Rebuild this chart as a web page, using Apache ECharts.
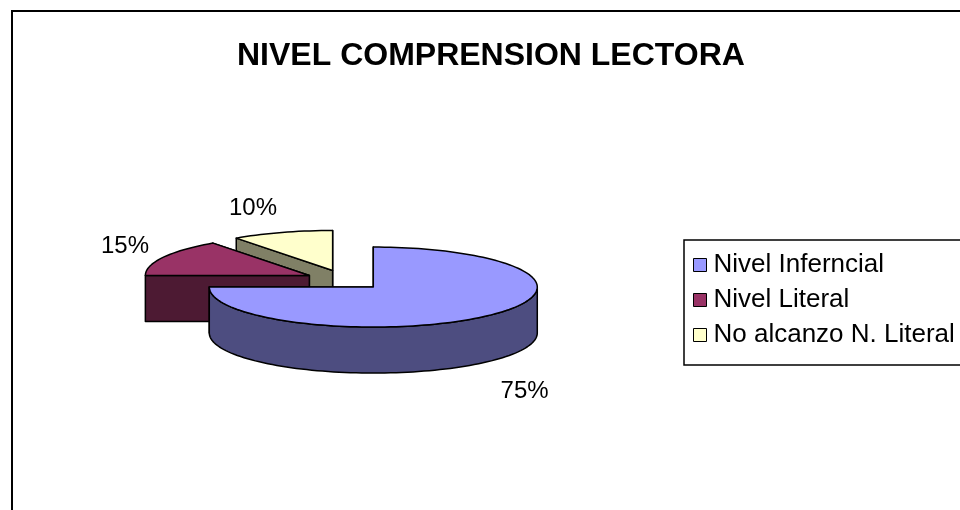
<!DOCTYPE html>
<html><head><meta charset="utf-8">
<script src="https://cdn.jsdelivr.net/npm/echarts@6/dist/echarts.min.js"></script>
<style>html,body{margin:0;padding:0;background:#fff}#c{width:960px;height:510px}</style>
</head><body><div id="c"></div>
<script>
const chartTitle = 'NIVEL COMPRENSION LECTORA';
const categories = ['Nivel Inferncial', 'Nivel Literal', 'No alcanzo N. Literal'];
const values = [75, 15, 10];
const percentLabels = ['75%', '15%', '10%'];
const topColors = ['#9999FF', '#993366', '#FFFFCC'];
const sideColors = ['#4D4D80', '#4D1A33', '#808066'];

const PIE = {cx: 345, cy: 280, rx: 164, ry: 40, depth: 46, explodeX: 40, explodeY: 10, labelX: 180, labelY: 65};
const FONT = '"Liberation Sans", Arial, sans-serif';

const total = values.reduce((a, b) => a + b, 0);
const starts = [];
let acc = 0;
values.forEach(v => { starts.push(acc / total * 360); acc += v; });
const rad = d => d * Math.PI / 180;
function pt(cx, cy, ang, dy) {
  return [cx + PIE.rx * Math.sin(rad(ang)), cy - PIE.ry * Math.cos(rad(ang)) + (dy || 0)];
}
function arc(cx, cy, a0, a1, dy) {
  const n = Math.max(2, Math.ceil(Math.abs(a1 - a0) / 2));
  const out = [];
  for (let k = 0; k <= n; k++) out.push(pt(cx, cy, a0 + (a1 - a0) * k / n, dy));
  return out;
}

function renderItem(params, api) {
  const i = params.dataIndex;
  const a0 = starts[i];
  const a1 = a0 + api.value(0) / total * 360;
  const mid = (a0 + a1) / 2;
  const s = Math.sin(rad(mid)), c = Math.cos(rad(mid));
  const cx = PIE.cx + PIE.explodeX * s;
  const cy = PIE.cy - PIE.explodeY * c;
  const d = PIE.depth;
  const base = Math.round((1 - c) * 100);
  const line = {stroke: '#000', lineWidth: 1.5, lineJoin: 'round'};
  const children = [];
  const back = [], front = [];
  [{ang: a0, n: a0 - 90}, {ang: a1, n: a1 + 90}].forEach(f => {
    const p = pt(cx, cy, f.ang);
    const poly = {type: 'polygon', shape: {points: [[cx, cy], p, [p[0], p[1] + d], [cx, cy + d]]},
      style: Object.assign({fill: sideColors[i]}, line)};
    (Math.cos(rad(f.n)) < -1e-6 ? front : back).push(poly);
  });
  children.push(...back);
  const w0 = Math.max(a0, 90), w1 = Math.min(a1, 270);
  if (w1 > w0) {
    const top = arc(cx, cy, w0, w1, 0), bot = arc(cx, cy, w1, w0, d);
    children.push({type: 'polygon', shape: {points: top.concat(bot)}, style: Object.assign({fill: sideColors[i]}, line)});
  }
  children.push(...front);
  children.push({type: 'polygon', shape: {points: [[cx, cy]].concat(arc(cx, cy, a0, a1, 0))},
    style: Object.assign({fill: topColors[i]}, line)});
  children.forEach((ch, k) => { ch.z2 = base * 10 + k; });
  const lx = cx + PIE.labelX * s;
  const ly = cy - PIE.labelY * c + (c < 0 ? d : 0);
  children.push({type: 'text', z2: 5000, style: {text: percentLabels[i], x: lx, y: ly,
    align: s < 0 ? 'right' : 'left', verticalAlign: c < 0 ? 'top' : 'middle',
    fontSize: 24, fontFamily: FONT, fill: '#000'}});
  return {type: 'group', children};
}

const chart = echarts.init(document.getElementById('c'), null, {renderer: 'canvas'});
chart.setOption({
  backgroundColor: '#fff',
  animation: false,
  title: {text: chartTitle, left: 237, top: 40, padding: 0,
    textStyle: {fontSize: 32, fontWeight: 'bold', fontFamily: FONT, color: '#000', lineHeight: 32}},
  legend: {
    orient: 'vertical', left: 684, top: 240, data: categories,
    backgroundColor: '#fff', borderColor: '#000', borderWidth: 1.5, borderRadius: 0,
    padding: [12, 30, 17, 9], itemWidth: 13, itemHeight: 13, itemGap: 9, icon: 'rect',
    itemStyle: {borderColor: '#000', borderWidth: 1},
    textStyle: {fontSize: 26, fontFamily: FONT, color: '#000', lineHeight: 25, padding: [0, 0, 0, 2]}
  },
  graphic: [{type: 'rect', shape: {x: 12, y: 11, width: 1000, height: 600}, style: {fill: 'none', stroke: '#000', lineWidth: 2}, z: -1}],
  series: [
    {type: 'custom', coordinateSystem: 'none', renderItem: renderItem, data: values, silent: true},
    {type: 'pie', radius: [0, 0], center: [-100, -100], silent: true, label: {show: false}, labelLine: {show: false},
      data: categories.map((cat, k) => ({name: cat, value: values[k], itemStyle: {color: topColors[k]}}))}
  ]
});
</script></body></html>
